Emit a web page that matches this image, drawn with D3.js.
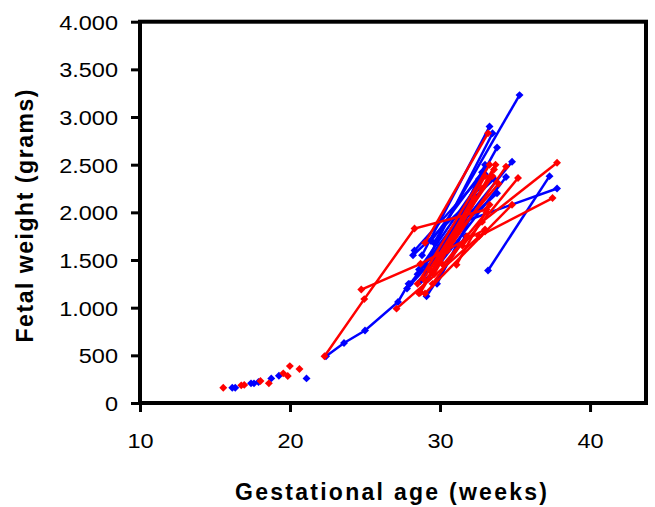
<!DOCTYPE html>
<html>
<head>
<meta charset="utf-8">
<script src="https://cdn.jsdelivr.net/npm/d3@7"></script>
<style>
  body { margin: 0; background: #fff; }
  text { font-family: Arial, "Liberation Sans", sans-serif; fill: #000; }
</style>
</head>
<body>
<svg class="chart" width="655" height="507"></svg>
<script>
// tick values
let xTicks = [10, 20, 30, 40]
let yTicks = [0, 500, 1000, 1500, 2000, 2500, 3000, 3500, 4000]

// single early measurements (weeks, grams)
let blueDots = [
  [16.15, 160], [16.35, 160], [17.4, 206], [17.6, 206], [17.9, 220],
  [18.75, 258], [19.26, 286], [21.1, 258]
]
let redDots = [
  [15.55, 160], [16.75, 185], [16.95, 190], [18.03, 230], [18.59, 206],
  [19.55, 311], [19.85, 283], [19.99, 387], [20.63, 356]
]

// repeated measurements, one line per fetus
let blueLines = [
  [[22.4, 490], [23.6, 630], [25.0, 760], [27.2, 1060], [27.9, 1250]],
  [[29.6, 1680], [35.3, 3230]],
  [[28.8, 1550], [33.3, 2900]],
  [[29.0, 1450], [33.5, 2830]],
  [[29.3, 1400], [33.8, 2680]],
  [[29.5, 1500], [34.8, 2530]],
  [[33.2, 1390], [37.3, 2380]],
  [[31.2, 1880], [37.8, 2250]],
  [[28.3, 1600], [32.6, 2350]],
  [[28.5, 1350], [32.0, 2100]],
  [[28.0, 1250], [31.5, 1950]],
  [[27.8, 1200], [31.2, 1800]],
  [[29.1, 1120], [31.7, 1750]],
  [[28.6, 1400], [33.0, 2400]],
  [[29.8, 1250], [32.2, 2000]],
  [[30.0, 1650], [33.8, 2200]],
  [[29.2, 1300], [34.4, 2370]],
  [[30.3, 1600], [33.0, 2500]],
  [[28.2, 1550], [33.6, 2350]],
  [[28.7, 1280], [32.5, 2250]],
  [[29.4, 1700], [32.8, 2420]]
]
let redLines = [
  [[22.3, 490], [24.95, 1090], [28.3, 1830], [33.1, 2030]],
  [[24.75, 1190], [28.7, 1460], [33.0, 1820]],
  [[27.1, 990], [33.0, 1800]],
  [[29.0, 1680], [33.2, 2830]],
  [[31.1, 1450], [33.3, 2080]],
  [[32.8, 1900], [37.8, 2520]],
  [[32.6, 1750], [37.5, 2150]],
  [[31.5, 1650], [35.2, 2360]],
  [[30.5, 1600], [34.4, 2480]],
  [[29.0, 1150], [34.8, 2080]],
  [[28.5, 1250], [33.3, 2500]],
  [[28.7, 1160], [33.6, 2450]],
  [[29.3, 1400], [33.5, 2380]],
  [[29.6, 1350], [32.8, 2250]],
  [[29.9, 1550], [33.9, 2300]],
  [[28.9, 1300], [32.3, 2150]],
  [[30.2, 1450], [33.1, 2000]],
  [[29.5, 1250], [31.8, 1750]],
  [[28.6, 1150], [33.0, 2380]],
  [[30.8, 1700], [33.7, 2500]]
]

let svg = d3.select('.chart')

let x = d3.scaleLinear().domain([10, 43.73]).range([140, 646])
let y = d3.scaleLinear().domain([0, 4000]).range([403, 21.7])

let fmt = d => d3.format(',')(d).replace(/,/g, '.')

// x axis
let xAxis = svg.append('g')
  .attr('transform', 'translate(0,403)')
  .call(d3.axisBottom(x).tickValues(xTicks).tickSize(9).tickPadding(21))
xAxis.select('.domain').remove()
xAxis.selectAll('line').attr('stroke-width', 3)
xAxis.selectAll('text')
  .attr('font-size', 21)
  .attr('transform', 'scale(1.12,1)')

// y axis
let yAxis = svg.append('g')
  .attr('transform', 'translate(140,0)')
  .call(d3.axisLeft(y).tickValues(yTicks).tickSize(9).tickPadding(13).tickFormat(fmt))
yAxis.select('.domain').remove()
yAxis.selectAll('line').attr('stroke-width', 3)
yAxis.selectAll('text')
  .attr('font-size', 21)
  .attr('dy', '0.36em')
  // stretch sideways, keep right edge in place
  .attr('transform', 'translate(-22,0) scale(1.12,1) translate(22,0)')

// frame
svg.append('rect')
  .attr('x', 140).attr('y', 21.7)
  .attr('width', 506).attr('height', 403 - 21.7)
  .attr('fill', 'none')
  .attr('stroke', '#000')
  .attr('stroke-width', 4)

let line = d3.line().x(d => x(d[0])).y(d => y(d[1]))
let diamond = d3.symbol().type(d3.symbolDiamond2).size(40)

function drawGroup(lines, dots, color) {
  let g = svg.append('g')
  g.selectAll('path.series')
    .data(lines)
    .enter()
    .append('path')
    .classed('series', true)
    .attr('d', line)
    .attr('fill', 'none')
    .attr('stroke', color)
    .attr('stroke-width', 2.5)
  g.selectAll('path.marker')
    .data(lines.flat().concat(dots))
    .enter()
    .append('path')
    .classed('marker', true)
    .attr('d', diamond)
    .attr('transform', d => `translate(${x(d[0])},${y(d[1])})`)
    .attr('fill', color)
}

drawGroup(blueLines, blueDots, '#0000ff')
drawGroup(redLines, redDots, '#ff0000')

// axis titles
svg.append('text')
  .attr('x', 391).attr('y', 500)
  .attr('text-anchor', 'middle')
  .attr('font-size', 23)
  .attr('font-weight', 'bold')
  .attr('textLength', 312)
  .attr('lengthAdjust', 'spacing')
  .text('Gestational age (weeks)')

svg.append('text')
  .attr('transform', 'translate(33,216) rotate(-90)')
  .attr('text-anchor', 'middle')
  .attr('font-size', 23)
  .attr('font-weight', 'bold')
  .attr('textLength', 253)
  .attr('lengthAdjust', 'spacing')
  .text('Fetal weight (grams)')
</script>
</body>
</html>
